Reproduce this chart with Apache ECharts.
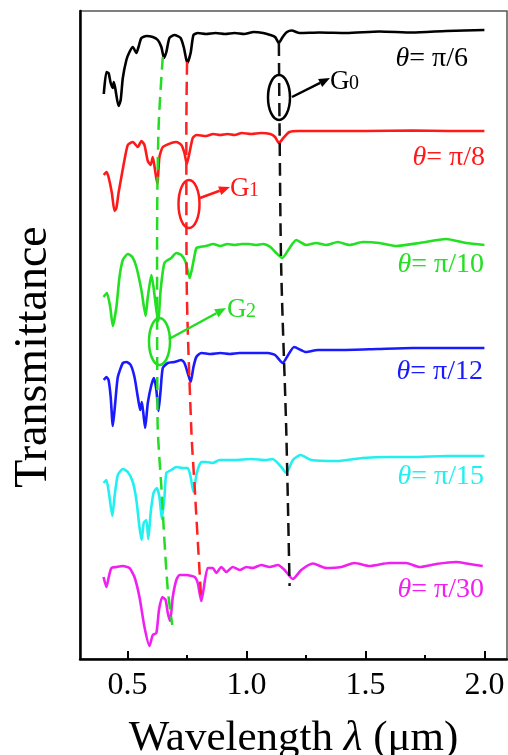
<!DOCTYPE html>
<html><head><meta charset="utf-8">
<script src="https://cdn.jsdelivr.net/npm/echarts@6/dist/echarts.min.js"></script>
<style>html,body{margin:0;padding:0;background:#fff}#c{width:508px;height:755px}</style>
</head><body><div id="c"></div>
<script>
// ---- data (wavelength in µm, transmittance in offset arbitrary units) ----
const xMajorTicks = [0.5, 1.0, 1.5, 2.0];
const xMinorTicks = [0.75, 1.25, 1.75];
const angleLabels = ['π/6', 'π/8', 'π/10', 'π/12', 'π/15', 'π/30'];

const tPi6 = [[0.400,5.65],[0.411,5.87],[0.420,5.86],[0.429,5.76],[0.438,5.71],[0.442,5.77],[0.448,5.71],[0.462,5.53],[0.471,5.59],[0.480,5.81],[0.495,5.99],[0.508,6.07],[0.522,6.12],[0.537,6.06],[0.546,6.12],[0.558,6.21],[0.579,6.23],[0.606,6.22],[0.627,6.19],[0.642,6.12],[0.653,6.01],[0.663,6.07],[0.676,6.21],[0.697,6.24],[0.723,6.21],[0.737,6.11],[0.751,5.96],[0.765,6.06],[0.777,6.24],[0.795,6.26],[0.83,6.25],[0.87,6.26],[0.91,6.25],[0.95,6.26],[0.99,6.25],[1.03,6.27],[1.07,6.26],[1.10,6.24],[1.12,6.22],[1.136,6.16],[1.152,6.22],[1.17,6.27],[1.19,6.285],[1.223,6.26],[1.307,6.265],[1.42,6.26],[1.559,6.275],[1.697,6.265],[1.84,6.28],[2.0,6.29]];

const tPi8 = [[0.400,4.84],[0.411,4.87],[0.420,4.82],[0.434,4.66],[0.445,4.48],[0.453,4.51],[0.462,4.66],[0.474,4.82],[0.487,4.99],[0.501,5.14],[0.522,5.17],[0.543,5.12],[0.558,5.18],[0.571,5.14],[0.585,4.98],[0.597,4.94],[0.606,5.02],[0.616,4.88],[0.625,4.75],[0.634,5.02],[0.648,5.12],[0.684,5.16],[0.705,5.17],[0.726,5.14],[0.739,5.06],[0.749,4.95],[0.760,5.06],[0.774,5.21],[0.789,5.24],[0.83,5.23],[0.86,5.25],[0.89,5.24],[0.92,5.25],[0.95,5.24],[0.98,5.26],[1.02,5.25],[1.06,5.26],[1.10,5.25],[1.12,5.22],[1.136,5.16],[1.155,5.21],[1.18,5.27],[1.22,5.28],[1.35,5.28],[1.5,5.28],[1.7,5.285],[1.85,5.28],[2.0,5.28]];

const tPi10 = [[0.399,3.62],[0.413,3.66],[0.427,3.52],[0.438,3.33],[0.453,3.52],[0.466,3.82],[0.480,3.99],[0.501,4.05],[0.520,4.02],[0.537,3.92],[0.558,3.69],[0.576,3.43],[0.585,3.62],[0.600,3.84],[0.609,3.72],[0.621,3.49],[0.629,3.38],[0.639,3.69],[0.655,3.96],[0.684,4.01],[0.705,4.06],[0.726,4.04],[0.744,3.97],[0.761,3.81],[0.774,3.94],[0.789,4.11],[0.803,4.12],[0.83,4.13],[0.86,4.15],[0.89,4.13],[0.92,4.15],[0.95,4.14],[0.98,4.15],[1.01,4.15],[1.04,4.14],[1.07,4.15],[1.10,4.12],[1.125,4.06],[1.150,4.01],[1.181,4.11],[1.209,4.19],[1.251,4.14],[1.293,4.16],[1.335,4.14],[1.384,4.17],[1.433,4.14],[1.489,4.17],[1.559,4.16],[1.629,4.13],[1.727,4.16],[1.839,4.20],[1.923,4.16],[2.0,4.14]];

const tPi12 = [[0.400,2.79],[0.411,2.82],[0.420,2.79],[0.429,2.62],[0.438,2.33],[0.448,2.56],[0.459,2.82],[0.480,2.96],[0.495,2.97],[0.513,2.94],[0.529,2.82],[0.543,2.62],[0.553,2.49],[0.560,2.57],[0.568,2.42],[0.574,2.31],[0.585,2.56],[0.600,2.74],[0.611,2.81],[0.621,2.69],[0.630,2.48],[0.639,2.69],[0.648,2.91],[0.669,2.96],[0.697,2.97],[0.726,2.99],[0.739,2.96],[0.753,2.86],[0.765,2.77],[0.777,2.92],[0.789,3.02],[0.810,3.06],[0.85,3.05],[0.89,3.06],[0.93,3.05],[0.97,3.06],[1.01,3.06],[1.05,3.06],[1.09,3.06],[1.12,3.04],[1.152,2.96],[1.175,3.04],[1.20,3.12],[1.25,3.07],[1.30,3.09],[1.40,3.09],[1.55,3.10],[1.70,3.11],[1.85,3.11],[2.0,3.11]];

const tPi15 = [[0.399,1.76],[0.411,1.79],[0.421,1.67],[0.436,1.43],[0.445,1.62],[0.459,1.84],[0.480,1.90],[0.501,1.87],[0.522,1.77],[0.537,1.59],[0.550,1.32],[0.559,1.19],[0.568,1.36],[0.579,1.39],[0.587,1.20],[0.597,1.46],[0.609,1.66],[0.623,1.71],[0.634,1.62],[0.644,1.40],[0.655,1.62],[0.663,1.86],[0.684,1.89],[0.705,1.92],[0.732,1.91],[0.753,1.91],[0.765,1.82],[0.777,1.67],[0.791,1.86],[0.810,1.97],[0.831,1.97],[0.858,1.96],[0.887,1.99],[0.95,1.99],[1.02,2.00],[1.08,1.99],[1.110,2.00],[1.146,1.92],[1.167,1.86],[1.195,1.99],[1.227,2.04],[1.273,1.99],[1.382,1.98],[1.487,2.01],[1.60,2.02],[1.697,2.02],[1.839,2.03],[2.0,2.03]];

const tPi30 = [[0.399,0.82],[0.411,0.72],[0.421,0.82],[0.432,0.91],[0.453,0.92],[0.480,0.93],[0.508,0.91],[0.529,0.82],[0.550,0.62],[0.571,0.32],[0.592,0.13],[0.606,0.24],[0.621,0.26],[0.632,0.49],[0.646,0.62],[0.660,0.59],[0.669,0.46],[0.679,0.38],[0.690,0.62],[0.705,0.79],[0.718,0.84],[0.747,0.84],[0.782,0.82],[0.795,0.76],[0.810,0.58],[0.819,0.69],[0.837,0.91],[0.858,0.91],[0.873,0.86],[0.894,0.92],[0.915,0.87],[0.942,0.92],[0.971,0.89],[0.999,0.92],[1.026,0.91],[1.062,0.94],[1.097,0.92],[1.132,0.94],[1.160,0.89],[1.195,0.80],[1.230,0.89],[1.279,0.955],[1.335,0.91],[1.398,0.92],[1.454,0.96],[1.517,0.93],[1.601,0.96],[1.671,0.96],[1.727,0.92],[1.797,0.95],[1.881,0.97],[1.937,0.95],[1.993,0.93]];

// guide lines following the G2, G1, G0 dips
const guideG2 = [[0.648,6.02],[0.630,5.29],[0.624,4.09],[0.626,2.39],[0.642,1.72],[0.668,0.72],[0.688,0.34]];
const guideG1 = [[0.750,5.97],[0.747,5.29],[0.748,3.89],[0.768,2.29],[0.782,1.72],[0.810,0.57]];
const guideG0 = [[1.136,6.16],[1.139,5.29],[1.146,3.89],[1.167,2.29],[1.181,0.73]];

// ---- styling ----
const FONT = 'Liberation Serif';
const curveColors = ['#000000', '#ff1a1a', '#22e022', '#1a1aff', '#22f0f0', '#f020f0'];
const curves = [tPi6, tPi8, tPi10, tPi12, tPi15, tPi30];
const labelPos = [[468,59],[485,158],[484,265],[483,372],[484,477],[484,590]];

const chart = echarts.init(document.getElementById('c'), null, {renderer: 'canvas'});

const series = [];
[[guideG2, '#22dd22'], [guideG1, '#ff2222'], [guideG0, '#111111']].forEach(([d, c]) => {
  series.push({type: 'line', data: d, showSymbol: false, smooth: 0.3, z: 4, silent: true,
    lineStyle: {color: c, width: 2.5, type: [13, 7]}});
});
curves.forEach((d, i) => {
  series.push({type: 'line', name: 'θ = ' + angleLabels[i], data: d, showSymbol: false, smooth: 0.2, z: 3,
    lineStyle: {color: curveColors[i], width: 2.6}});
});

function arrow(x1, y1, x2, y2, color) {
  const dx = x2 - x1, dy = y2 - y1, L = Math.hypot(dx, dy);
  const ux = dx / L, uy = dy / L, px = -uy, py = ux;
  const hl = 11, hw = 4.5;
  const bx = x2 - ux * hl, by = y2 - uy * hl;
  return [
    {type: 'line', shape: {x1: x1, y1: y1, x2: bx, y2: by}, style: {stroke: color, lineWidth: 2.5}},
    {type: 'polygon', shape: {points: [[x2, y2], [bx + px * hw, by + py * hw], [bx - px * hw, by - py * hw]]}, style: {fill: color}}
  ];
}

const graphics = [];
graphics.push({type: 'text', x: 34, y: 357, rotation: Math.PI / 2,
  style: {text: 'Transmittance', fontFamily: FONT, fontSize: 46, fill: '#000', align: 'center', verticalAlign: 'middle'}});
angleLabels.forEach((t, i) => {
  graphics.push({type: 'text', x: labelPos[i][0], y: labelPos[i][1],
    style: {text: '{a|θ}{b|= ' + t + '}', align: 'right', verticalAlign: 'middle',
      rich: {a: {fontFamily: FONT, fontSize: 28, fontStyle: 'italic', fill: curveColors[i]},
             b: {fontFamily: FONT, fontSize: 28, fill: curveColors[i]}}}});
});
const gMarks = [
  {c: '#000000', e: [279, 97.5, 11, 22.5], a: [292, 97, 330, 78], g: [330, 89], sub: '0'},
  {c: '#ff1a1a', e: [189, 204, 10.5, 24], a: [200, 198, 230, 187], g: [230, 196], sub: '1'},
  {c: '#22dd22', e: [159.5, 341.5, 10.5, 23.5], a: [169, 339, 226, 308], g: [227, 317], sub: '2'}
];
gMarks.forEach(m => {
  graphics.push({type: 'ellipse', shape: {cx: m.e[0], cy: m.e[1], rx: m.e[2], ry: m.e[3]},
    style: {fill: 'none', stroke: m.c, lineWidth: 2.5}, z: 10});
  arrow(m.a[0], m.a[1], m.a[2], m.a[3], m.c).forEach(o => { o.z = 10; graphics.push(o); });
  graphics.push({type: 'text', x: m.g[0], y: m.g[1] + 6, z: 10,
    style: {text: 'G', fontFamily: FONT, fontSize: 27, fill: m.c, align: 'left', verticalAlign: 'bottom'}});
  graphics.push({type: 'text', x: m.g[0] + 19, y: m.g[1] + 4.5, z: 10,
    style: {text: m.sub, fontFamily: FONT, fontSize: 20, fill: m.c, align: 'left', verticalAlign: 'bottom'}});
});

chart.setOption({
  animation: false,
  backgroundColor: '#ffffff',
  grid: {left: 80, right: 1, top: 11, bottom: 96, show: true, borderColor: '#555', borderWidth: 1.5,
    containLabel: false, outerBoundsMode: 'none'},
  xAxis: [{
    type: 'value', min: 0.3, max: 2.095, position: 'bottom',
    name: '{n|Wavelength }{l|λ}{n| (μm)}', nameLocation: 'middle', nameGap: 58,
    nameTextStyle: {rich: {n: {fontFamily: FONT, fontSize: 43, color: '#000'},
                           l: {fontFamily: FONT, fontSize: 43, fontStyle: 'italic', color: '#000'}}},
    axisLine: {show: true, onZero: false, lineStyle: {color: '#000', width: 2.5}},
    axisTick: {show: true, inside: true, length: 8, lineStyle: {color: '#000', width: 2}, customValues: xMajorTicks},
    axisLabel: {show: true, customValues: xMajorTicks, formatter: v => v.toFixed(1), margin: 11,
      fontFamily: FONT, fontSize: 32, color: '#000'},
    splitLine: {show: false}
  }, {
    type: 'value', min: 0.3, max: 2.095, position: 'bottom',
    axisLine: {show: false},
    axisTick: {show: true, inside: true, length: 4, lineStyle: {color: '#000', width: 2}, customValues: xMinorTicks},
    axisLabel: {show: false}, splitLine: {show: false}
  }],
  yAxis: {
    type: 'value', min: 0, max: 6.48,
    axisLine: {show: true, onZero: false, lineStyle: {color: '#000', width: 2.5}},
    axisTick: {show: false}, axisLabel: {show: false}, splitLine: {show: false}
  },
  series: series,
  graphic: graphics
});
</script>
</body></html>
